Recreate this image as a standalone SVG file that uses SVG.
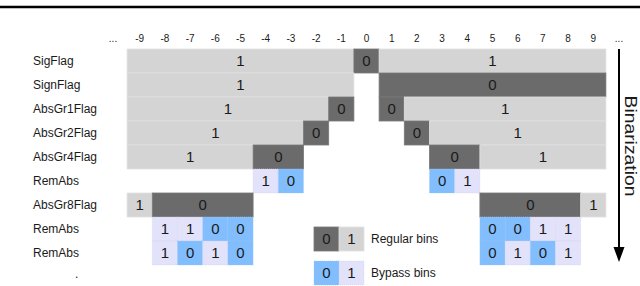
<svg xmlns="http://www.w3.org/2000/svg" width="640" height="286" viewBox="0 0 640 286">
<style>
text{font-family:"Liberation Sans",Arial,sans-serif;fill:#1a1a1a}
.lbl{font-size:12px}
.hdr{font-size:10px;text-anchor:middle}
.d{font-size:15px;text-anchor:middle}
.lg{fill:#d4d4d4;stroke:#e0e0e0;stroke-width:0.8}
.dk{fill:#6b6b6b;stroke:#787878;stroke-width:0.8}
.bl{fill:#82befe;stroke:#95c8fe;stroke-width:0.6;stroke-dasharray:1 1}
.lv{fill:#e2e2fa;stroke:#d4d4f0;stroke-width:0.6;stroke-dasharray:1 1}
.big{font-size:17px;text-anchor:middle}
</style>
<rect width="640" height="286" fill="#fff"/>
<line x1="0" y1="7" x2="640" y2="7" stroke="#000" stroke-width="2.3"/>

<g id="header">
<text class="hdr" x="113" y="42">...</text>
<text class="hdr" x="139.7" y="42">-9</text>
<text class="hdr" x="164.9" y="42">-8</text>
<text class="hdr" x="190.1" y="42">-7</text>
<text class="hdr" x="215.3" y="42">-6</text>
<text class="hdr" x="240.5" y="42">-5</text>
<text class="hdr" x="265.7" y="42">-4</text>
<text class="hdr" x="290.9" y="42">-3</text>
<text class="hdr" x="316.1" y="42">-2</text>
<text class="hdr" x="341.3" y="42">-1</text>
<text class="hdr" x="366.5" y="42">0</text>
<text class="hdr" x="391.7" y="42">1</text>
<text class="hdr" x="416.9" y="42">2</text>
<text class="hdr" x="442.1" y="42">3</text>
<text class="hdr" x="467.3" y="42">4</text>
<text class="hdr" x="492.5" y="42">5</text>
<text class="hdr" x="517.7" y="42">6</text>
<text class="hdr" x="542.9" y="42">7</text>
<text class="hdr" x="568.1" y="42">8</text>
<text class="hdr" x="593.3" y="42">9</text>
<text class="hdr" x="619" y="42">...</text>
</g>

<g id="row-sigflag" transform="translate(0,49)">
<text class="lbl" x="33" y="16.3">SigFlag</text>
<rect class="lg" x="127.1" y="0" width="226.8" height="24"/><text class="d" x="240.5" y="17.3">1</text>
<rect class="dk" x="353.9" y="0" width="25.2" height="24"/><text class="d" x="366.5" y="17.3">0</text>
<rect class="lg" x="379.1" y="0" width="226.8" height="24"/><text class="d" x="492.5" y="17.3">1</text>
</g>

<g id="row-signflag" transform="translate(0,73)">
<text class="lbl" x="33" y="16.3">SignFlag</text>
<rect class="lg" x="127.1" y="0" width="226.8" height="24"/><text class="d" x="240.5" y="17.3">1</text>
<rect class="dk" x="379.1" y="0" width="226.8" height="24"/><text class="d" x="492.5" y="17.3">0</text>
</g>

<g id="row-absgr1flag" transform="translate(0,97)">
<text class="lbl" x="33" y="16.3">AbsGr1Flag</text>
<rect class="lg" x="127.1" y="0" width="201.6" height="24"/><text class="d" x="227.9" y="17.3">1</text>
<rect class="dk" x="328.7" y="0" width="25.2" height="24"/><text class="d" x="341.3" y="17.3">0</text>
<rect class="dk" x="379.1" y="0" width="25.2" height="24"/><text class="d" x="391.7" y="17.3">0</text>
<rect class="lg" x="404.3" y="0" width="201.6" height="24"/><text class="d" x="505.1" y="17.3">1</text>
</g>

<g id="row-absgr2flag" transform="translate(0,121)">
<text class="lbl" x="33" y="16.3">AbsGr2Flag</text>
<rect class="lg" x="127.1" y="0" width="176.4" height="24"/><text class="d" x="215.3" y="17.3">1</text>
<rect class="dk" x="303.5" y="0" width="25.2" height="24"/><text class="d" x="316.1" y="17.3">0</text>
<rect class="dk" x="404.3" y="0" width="25.2" height="24"/><text class="d" x="416.9" y="17.3">0</text>
<rect class="lg" x="429.5" y="0" width="176.4" height="24"/><text class="d" x="517.7" y="17.3">1</text>
</g>

<g id="row-absgr4flag" transform="translate(0,145)">
<text class="lbl" x="33" y="16.3">AbsGr4Flag</text>
<rect class="lg" x="127.1" y="0" width="126" height="24"/><text class="d" x="190.1" y="17.3">1</text>
<rect class="dk" x="253.1" y="0" width="50.4" height="24"/><text class="d" x="278.3" y="17.3">0</text>
<rect class="dk" x="429.5" y="0" width="50.4" height="24"/><text class="d" x="454.7" y="17.3">0</text>
<rect class="lg" x="479.9" y="0" width="126" height="24"/><text class="d" x="542.9" y="17.3">1</text>
</g>

<g id="row-remabs1" transform="translate(0,169)">
<text class="lbl" x="33" y="16.3">RemAbs</text>
<rect class="lv" x="253.1" y="0" width="25.2" height="24"/><text class="d" x="265.7" y="17.3">1</text>
<rect class="bl" x="278.3" y="0" width="25.2" height="24"/><text class="d" x="290.9" y="17.3">0</text>
<rect class="bl" x="429.5" y="0" width="25.2" height="24"/><text class="d" x="442.1" y="17.3">0</text>
<rect class="lv" x="454.7" y="0" width="25.2" height="24"/><text class="d" x="467.3" y="17.3">1</text>
</g>

<g id="row-absgr8flag" transform="translate(0,193)">
<text class="lbl" x="33" y="16.3">AbsGr8Flag</text>
<rect class="lg" x="127.1" y="0" width="25.2" height="24"/><text class="d" x="139.7" y="17.3">1</text>
<rect class="dk" x="152.3" y="0" width="100.8" height="24"/><text class="d" x="202.7" y="17.3">0</text>
<rect class="dk" x="479.9" y="0" width="100.8" height="24"/><text class="d" x="530.3" y="17.3">0</text>
<rect class="lg" x="580.7" y="0" width="25.2" height="24"/><text class="d" x="593.3" y="17.3">1</text>
</g>

<g id="row-remabs2" transform="translate(0,217)">
<text class="lbl" x="33" y="16.3">RemAbs</text>
<rect class="lv" x="152.3" y="0" width="25.2" height="24"/><text class="d" x="164.9" y="17.3">1</text>
<rect class="lv" x="177.5" y="0" width="25.2" height="24"/><text class="d" x="190.1" y="17.3">1</text>
<rect class="bl" x="202.7" y="0" width="25.2" height="24"/><text class="d" x="215.3" y="17.3">0</text>
<rect class="bl" x="227.9" y="0" width="25.2" height="24"/><text class="d" x="240.5" y="17.3">0</text>
<rect class="bl" x="479.9" y="0" width="25.2" height="24"/><text class="d" x="492.5" y="17.3">0</text>
<rect class="bl" x="505.1" y="0" width="25.2" height="24"/><text class="d" x="517.7" y="17.3">0</text>
<rect class="lv" x="530.3" y="0" width="25.2" height="24"/><text class="d" x="542.9" y="17.3">1</text>
<rect class="lv" x="555.5" y="0" width="25.2" height="24"/><text class="d" x="568.1" y="17.3">1</text>
</g>

<g id="row-remabs3" transform="translate(0,241)">
<text class="lbl" x="33" y="16.3">RemAbs</text>
<rect class="lv" x="152.3" y="0" width="25.2" height="24"/><text class="d" x="164.9" y="17.3">1</text>
<rect class="bl" x="177.5" y="0" width="25.2" height="24"/><text class="d" x="190.1" y="17.3">0</text>
<rect class="lv" x="202.7" y="0" width="25.2" height="24"/><text class="d" x="215.3" y="17.3">1</text>
<rect class="bl" x="227.9" y="0" width="25.2" height="24"/><text class="d" x="240.5" y="17.3">0</text>
<rect class="bl" x="479.9" y="0" width="25.2" height="24"/><text class="d" x="492.5" y="17.3">0</text>
<rect class="lv" x="505.1" y="0" width="25.2" height="24"/><text class="d" x="517.7" y="17.3">1</text>
<rect class="bl" x="530.3" y="0" width="25.2" height="24"/><text class="d" x="542.9" y="17.3">0</text>
<rect class="lv" x="555.5" y="0" width="25.2" height="24"/><text class="d" x="568.1" y="17.3">1</text>
</g>

<text class="lbl" x="75" y="278">.</text>

<g id="legend-regular" transform="translate(0,227)">
<rect class="dk" x="314" y="0" width="25" height="24"/><text class="d" x="326.5" y="17.3">0</text>
<rect class="lg" x="339" y="0" width="25" height="24"/><text class="d" x="351.5" y="17.3">1</text>
<text class="lbl" x="371" y="16.3">Regular bins</text>
</g>

<g id="legend-bypass" transform="translate(0,261)">
<rect class="bl" x="314" y="0" width="25" height="24"/><text class="d" x="326.5" y="17.3">0</text>
<rect class="lv" x="339" y="0" width="25" height="24"/><text class="d" x="351.5" y="17.3">1</text>
<text class="lbl" x="371" y="16.3">Bypass bins</text>
</g>

<g id="connectors">
<line x1="619" y1="49" x2="619" y2="250" stroke="#000" stroke-width="2"/>
<polygon points="613.5,247 624.5,247 619,262" fill="#000"/>
</g>
<g id="binarization-label">
<text class="big" transform="translate(625,146) rotate(90)" textLength="101" lengthAdjust="spacingAndGlyphs">Binarization</text>
</g>
</svg>
